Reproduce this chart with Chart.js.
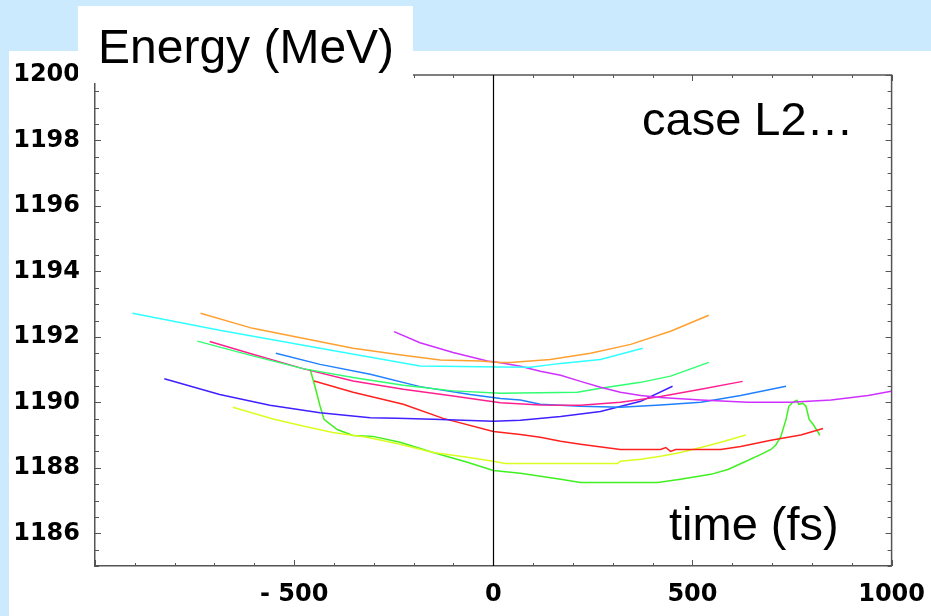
<!DOCTYPE html>
<html>
<head>
<meta charset="utf-8">
<script src="https://cdn.jsdelivr.net/npm/chart.js@4/dist/chart.umd.min.js"></script>
<style>
  html, body { margin: 0; padding: 0; background: #cbeafd; }
  canvas { display: block; }
</style>
</head>
<body>
<canvas id="c" width="931" height="616"></canvas>
<script>
// Axis ticks
const timeTicks = [-500, 0, 500, 1000];
const timeTickLabels = ['- 500', '0', '500', '1000'];
const energyTicks = [1186, 1188, 1190, 1192, 1194, 1196, 1198, 1200];

// Bunch-slice energy traces: time (fs) and energy (MeV)
const orangeT = [-735, -604, -478, -352, -226, -133, -33, 18, 43, 143, 244, 345, 445, 541];
const orangeE = [1192.72, 1192.26, 1191.96, 1191.65, 1191.44, 1191.29, 1191.26, 1191.22, 1191.22, 1191.31, 1191.50, 1191.77, 1192.17, 1192.66];

const cyanT = [-906, -687, -435, -184, 18, 93, 169, 269, 375];
const cyanE = [1192.72, 1192.20, 1191.65, 1191.11, 1191.08, 1191.07, 1191.19, 1191.31, 1191.65];

const violetT = [-249, -184, -101, -15, 18, 68, 118, 169, 219, 269, 319, 370, 420, 521, 639, 747, 848, 941, 999];
const violetE = [1192.16, 1191.82, 1191.52, 1191.26, 1191.21, 1191.10, 1190.95, 1190.83, 1190.64, 1190.46, 1190.31, 1190.21, 1190.15, 1190.07, 1190.00, 1190.00, 1190.07, 1190.21, 1190.34];

const greenT = [-743, -604, -478, -352, -226, -101, 18, 211, 269, 370, 445, 541];
const greenE = [1191.87, 1191.42, 1191.03, 1190.76, 1190.52, 1190.35, 1190.28, 1190.31, 1190.43, 1190.61, 1190.80, 1191.22];

const pinkT = [-712, -604, -478, -352, -226, -101, 18, 118, 219, 319, 370, 420, 521, 626];
const pinkE = [1191.86, 1191.47, 1191.03, 1190.65, 1190.40, 1190.19, 1189.99, 1189.92, 1189.91, 1190.00, 1190.09, 1190.18, 1190.40, 1190.64];

const blueT = [-546, -435, -309, -184, -58, 18, 68, 118, 219, 319, 420, 521, 621, 735];
const blueE = [1191.50, 1191.16, 1190.86, 1190.48, 1190.24, 1190.12, 1190.07, 1189.94, 1189.88, 1189.85, 1189.92, 1190.00, 1190.21, 1190.49];

const indigoT = [-826, -687, -561, -435, -309, -242, -151, 0, 68, 169, 269, 370, 450];
const indigoE = [1190.72, 1190.24, 1189.91, 1189.68, 1189.53, 1189.51, 1189.48, 1189.42, 1189.45, 1189.57, 1189.72, 1190.03, 1190.49];

const redT = [-450, -352, -226, -126, 0, 68, 118, 169, 219, 319, 420, 433, 445, 458, 571, 621, 697, 772, 828];
const redE = [1190.65, 1190.31, 1189.94, 1189.51, 1189.11, 1189.02, 1188.93, 1188.81, 1188.72, 1188.56, 1188.56, 1188.62, 1188.50, 1188.56, 1188.56, 1188.65, 1188.84, 1189.00, 1189.20];

const yellowT = [-654, -553, -486, -403, -317, -234, -151, -65, 0, 30, 312, 319, 370, 420, 470, 521, 571, 634];
const yellowE = [1189.85, 1189.49, 1189.30, 1189.08, 1188.93, 1188.72, 1188.47, 1188.32, 1188.20, 1188.13, 1188.13, 1188.20, 1188.26, 1188.35, 1188.47, 1188.62, 1188.78, 1189.00];

const limeT = [-460, -448, -435, -425, -392, -352, -302, -234, -151, -65, 0, 68, 169, 219, 413, 470, 546, 589, 629, 672, 697, 709, 722, 735, 742, 752, 762, 767, 777, 785, 793, 803, 820];
const limeE = [1191.01, 1190.50, 1189.89, 1189.48, 1189.17, 1188.99, 1188.96, 1188.78, 1188.47, 1188.17, 1187.92, 1187.83, 1187.65, 1187.55, 1187.55, 1187.65, 1187.80, 1187.95, 1188.17, 1188.41, 1188.56, 1188.69, 1188.96, 1189.48, 1189.88, 1190.00, 1190.06, 1189.94, 1189.97, 1189.88, 1189.48, 1189.33, 1188.99];

const traces = [
  [orangeT, orangeE, '#ffa030'],
  [cyanT, cyanE, '#30ffff'],
  [violetT, violetE, '#d030ff'],
  [greenT, greenE, '#30ff70'],
  [pinkT, pinkE, '#ff2090'],
  [blueT, blueE, '#2080ff'],
  [indigoT, indigoE, '#4020ff'],
  [redT, redE, '#ff2020'],
  [yellowT, yellowE, '#d8ff20'],
  [limeT, limeE, '#40f020']
];

const datasets = traces.map(([t, e, col]) => ({
  data: t.map((v, i) => ({ x: v, y: e[i] })),
  borderColor: col,
  borderWidth: 1.5,
  pointRadius: 0,
  tension: 0,
  fill: false
}));

const tickFont = { family: 'DejaVu Sans', size: 24, weight: 'bold' };

// Page panels, frame with inward ticks, origin line and annotations
const decor = {
  id: 'decor',
  beforeDraw(chart) {
    const ctx = chart.ctx;
    ctx.save();
    ctx.fillStyle = '#cbeafd';
    ctx.fillRect(0, 0, chart.width, chart.height);
    ctx.fillStyle = '#ffffff';
    ctx.fillRect(9, 51, chart.width - 9, chart.height - 51);
    ctx.restore();
  },
  afterDatasetsDraw(chart) {
    const ctx = chart.ctx;
    const a = chart.chartArea;
    const xs = chart.scales.x, ys = chart.scales.y;
    ctx.save();
    ctx.strokeStyle = '#555';
    ctx.lineWidth = 1.5;
    ctx.beginPath();
    ctx.moveTo(a.left, a.top); ctx.lineTo(a.right, a.top); ctx.lineTo(a.right, a.bottom);
    ctx.stroke();
    ctx.lineWidth = 1;
    ctx.beginPath();
    for (let v = -1000; v <= 1000; v += 100) {
      const px = Math.round(xs.getPixelForValue(v)) + 0.5;
      const major = v % 500 === 0;
      const len = major ? 6 : 3;
      ctx.moveTo(px, a.bottom); ctx.lineTo(px, a.bottom - len);
      ctx.moveTo(px, a.top); ctx.lineTo(px, a.top + len);
    }
    for (let v = 1185; v <= 1200; v += 0.5) {
      const py = Math.round(ys.getPixelForValue(v)) + 0.5;
      const major = Math.abs(v % 2) < 1e-9;
      const len = major ? 6 : 4;
      ctx.moveTo(a.left, py); ctx.lineTo(a.left + len, py);
      ctx.moveTo(a.right, py); ctx.lineTo(a.right - len, py);
    }
    ctx.stroke();
    // origin line t = 0
    const x0 = Math.round(xs.getPixelForValue(0)) + 0.5;
    ctx.strokeStyle = '#000';
    ctx.lineWidth = 1.2;
    ctx.beginPath();
    ctx.moveTo(x0, a.top); ctx.lineTo(x0, a.bottom);
    ctx.stroke();
    ctx.restore();
  },
  afterDraw(chart) {
    const ctx = chart.ctx;
    ctx.save();
    ctx.fillStyle = '#ffffff';
    ctx.fillRect(78, 6, 335, 77);
    ctx.fillStyle = '#000';
    ctx.textBaseline = 'alphabetic';
    ctx.textAlign = 'left';
    ctx.font = '48px "Liberation Sans", Arial, sans-serif';
    ctx.fillText('Energy (MeV)', 98, 63);
    ctx.font = '47px "Liberation Sans", Arial, sans-serif';
    ctx.fillText('case L2\u2026', 642, 135);
    ctx.fillText('time (fs)', 669, 540);
    ctx.restore();
  }
};

new Chart(document.getElementById('c'), {
  type: 'line',
  data: { datasets },
  plugins: [decor],
  options: {
    responsive: false,
    animation: false,
    devicePixelRatio: 1,
    layout: { padding: { left: 0, top: 75, right: 36, bottom: 0 } },
    plugins: { legend: { display: false }, tooltip: { enabled: false }, title: { display: false } },
    scales: {
      x: {
        type: 'linear',
        min: -1000,
        max: 1000,
        afterBuildTicks: s => { s.ticks = timeTicks.map(v => ({ value: v })); },
        afterFit: s => { s.height = 50; },
        ticks: {
          callback: v => timeTickLabels[timeTicks.indexOf(v)],
          font: tickFont,
          color: '#000',
          padding: 6,
          maxRotation: 0,
          autoSkip: false
        },
        grid: { display: false },
        border: { display: true, color: '#555', width: 1.5 }
      },
      y: {
        type: 'linear',
        min: 1185,
        max: 1200,
        afterBuildTicks: s => { s.ticks = energyTicks.map(v => ({ value: v })); },
        afterFit: s => { s.width = 95; },
        ticks: {
          callback: v => String(v),
          font: tickFont,
          color: '#000',
          padding: 7,
          autoSkip: false
        },
        grid: { display: false },
        border: { display: true, color: '#555', width: 1.5 }
      }
    }
  }
});
</script>
</body>
</html>
